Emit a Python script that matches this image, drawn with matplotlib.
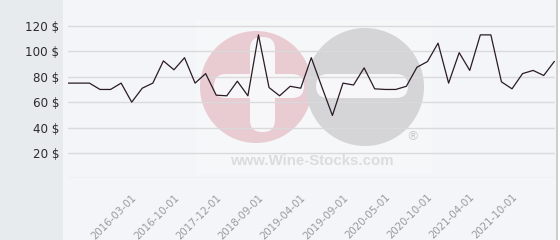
import numpy as np
import matplotlib
matplotlib.use("Agg")
import matplotlib.pyplot as plt
from matplotlib.patches import Circle, FancyBboxPatch, Rectangle

# ---- data ----
prices = [75, 75, 75, 70, 70, 75, 60, 71, 75, 92.5, 85.5, 95, 75, 82.5, 65.5, 65, 76.5, 65,
          113, 71.5, 65, 72.5, 71, 95, 72, 49.5, 75, 73.5, 87, 70.5, 70, 70, 72.5, 87.5,
          92, 106.5, 75, 99, 85, 113, 113, 76, 70.5, 82.5, 85, 81, 92]
tick_labels = ["2016-03-01", "2016-10-01", "2017-12-01", "2018-09-01", "2019-04-01",
               "2019-09-01", "2020-05-01", "2020-10-01", "2021-04-01", "2021-10-01"]
tick_index = [6, 10, 14, 18, 22, 26, 30, 34, 38, 42]
y_grid = [0, 20, 40, 60, 80, 100, 120]
y_labels = ["", "20 $", "40 $", "60 $", "80 $", "100 $", "120 $"]

W, H = 560, 240
fig = plt.figure(figsize=(W / 100, H / 100), dpi=100)
fig.patch.set_facecolor("#f4f5f8")

# background / watermark layer in pixel coordinates
bg = fig.add_axes([0, 0, 1, 1], zorder=0)
bg.set_xlim(0, W)
bg.set_ylim(H, 0)
bg.axis("off")
bg.add_patch(Rectangle((0, 0), 63, H, color="#e7ebee", lw=0))
bg.add_patch(Rectangle((556, 0), 4, H, color="#ffffff", lw=0))
bg.plot([556.5, 556.5], [0, H], color="#c4c4c4", lw=1.2)
bg.add_patch(Rectangle((196, 20), 236, 155, color="#fbfbfc", lw=0, alpha=0.4))
bg.add_patch(Circle((256, 87), 56, color="#e9cbd2", lw=0))
bg.add_patch(Circle((365, 87), 59, color="#d5d5d7", lw=0))
bg.add_patch(FancyBboxPatch((250, 37), 25, 95, boxstyle="round,pad=0,rounding_size=12",
                            color="#f7f7f9", lw=0))
bg.add_patch(FancyBboxPatch((214, 74), 90, 24, boxstyle="round,pad=0,rounding_size=12",
                            color="#f7f7f9", lw=0))
bg.add_patch(FancyBboxPatch((316, 74), 92, 24, boxstyle="round,pad=0,rounding_size=12",
                            color="#f7f7f9", lw=0))
bg.text(312, 161, "www.Wine-Stocks.com", family="Liberation Sans", weight="bold",
        fontsize=10.8, color="#dcdcdc", ha="center", va="center")
bg.text(413, 137, "®", family="DejaVu Sans", fontsize=9, color="#c9c9c9",
        ha="center", va="center")

# main chart
left_px, right_px = 68, 555
bottom_px = 178.3
px_per_unit = (178.3 - 26.0) / 120
ymax = 130
ax = fig.add_axes([left_px / W, (H - bottom_px) / H, (right_px - left_px) / W,
                   ymax * px_per_unit / H], zorder=1)
ax.set_facecolor("none")
x = np.arange(len(prices))
ax.plot(x, prices, color="#2a1b24", lw=0.9, zorder=3)
ax.set_xlim(-0.03, 46.07)
ax.set_ylim(0, ymax)
for s in ax.spines.values():
    s.set_visible(False)
ax.set_yticks(y_grid)
ax.set_yticklabels(y_labels, fontsize=8.6, color="#2b2b2b")
ax.tick_params(axis="y", length=0, pad=6.2)
ax.yaxis.grid(True, color="#dadada", lw=1.0)
ax.set_axisbelow(True)
ax.set_xticks(tick_index)
ax.set_xticklabels(tick_labels, fontsize=7.4, color="#9a9a9a", rotation=45,
                   ha="right", va="top", rotation_mode="anchor")
ax.tick_params(axis="x", length=0, pad=10)

fig.savefig("out.png", dpi=100, facecolor=fig.get_facecolor())
